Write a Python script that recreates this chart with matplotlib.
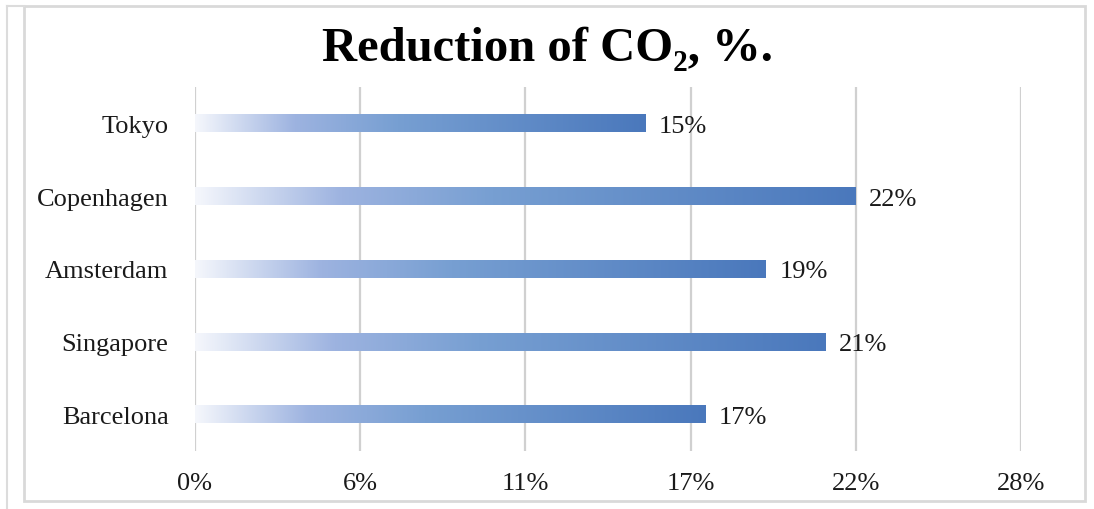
import numpy as np
import matplotlib
matplotlib.use('Agg')
import matplotlib.pyplot as plt
from matplotlib.colors import LinearSegmentedColormap
from matplotlib.ticker import FuncFormatter
from matplotlib.lines import Line2D
from matplotlib.patches import Rectangle

cities = ['Barcelona', 'Singapore', 'Amsterdam', 'Copenhagen', 'Tokyo']
reduction = [0.17, 0.21, 0.19, 0.22, 0.15]
x_ticks = [0, 0.055, 0.11, 0.165, 0.22, 0.275]

plt.rcParams['font.family'] = ['Liberation Serif', 'DejaVu Serif']

def pct(x, pos=None):
  return '%d%%' % int(x * 100 + 0.5)

# white -> light blue -> steel blue fill along each bar
fade = LinearSegmentedColormap.from_list('fade', [
  (0.0, '#f5f7fc'),
  (0.22, '#9db3e0'),
  (0.45, '#779fd2'),
  (1.0, '#4a78bc'),
])

fig = plt.figure(figsize=(10.94, 5.10), dpi=100)
ax = fig.add_axes([0.1782, 0.1137, 0.9333 - 0.1782, 0.8275 - 0.1137])

bar_h = 0.24
grad = np.linspace(0, 1, 256).reshape(1, -1)
for i, v in enumerate(reduction):
  ax.imshow(grad, cmap=fade, aspect='auto', interpolation='bicubic',
            extent=[0, v, i - bar_h / 2, i + bar_h / 2], zorder=3)
  ax.text(v + 0.0045, i, pct(v), va='center_baseline', ha='left',
          fontsize=19, color='#1a1a1a', zorder=4)

ax.set_xlim(0, 0.275)
ax.set_ylim(-0.5, len(cities) - 0.5)
ax.set_xticks(x_ticks)
ax.xaxis.set_major_formatter(FuncFormatter(pct))
ax.set_yticks(range(len(cities)))
ax.set_yticklabels(cities, va='center_baseline')
ax.tick_params(axis='both', length=0, labelsize=19, colors='#1a1a1a')
ax.tick_params(axis='x', pad=15)
ax.tick_params(axis='y', pad=19)
ax.grid(axis='x', color='#d0d0d0', linewidth=1.6, zorder=0)
ax.set_axisbelow(True)
for s in ax.spines.values():
  s.set_visible(False)

fig.text(0.5, 0.905, 'Reduction of CO\u2082, %.', ha='center', va='center',
         fontsize=35, fontweight='bold', color='black')

# chart frame
W, H = 1094, 510
fig.patches.append(Rectangle((24 / W, 1 - 502 / H), (1085 - 24) / W, (502 - 7) / H,
                             transform=fig.transFigure, fill=False,
                             edgecolor='#d9d9d9', linewidth=2))
fig.lines.append(Line2D([7 / W, 7 / W], [0, 1 - 7 / H], transform=fig.transFigure,
                        color='#dcdcdc', linewidth=1.5))
fig.lines.append(Line2D([7 / W, 24 / W], [1 - 7 / H, 1 - 7 / H], transform=fig.transFigure,
                        color='#dcdcdc', linewidth=1.5))

fig.savefig('out.png', dpi=100)
